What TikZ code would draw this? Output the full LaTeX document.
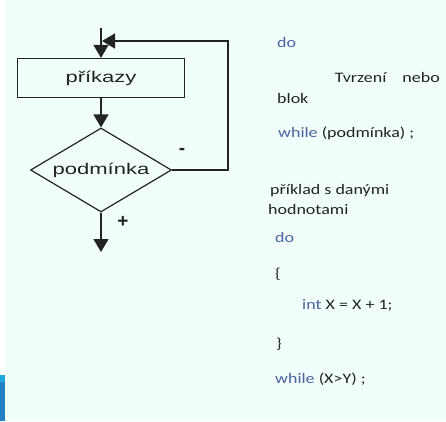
\documentclass[tikz,border=0pt]{standalone}
\usepackage{fontspec}
\usepackage{graphicx}
\usetikzlibrary{shapes.geometric,arrows.meta}

\newfontfamily\flowfont{Liberation Sans}
\newfontfamily\codefont{Carlito}

\definecolor{mint}{RGB}{240,255,250}
\definecolor{kwblue}{RGB}{78,96,160}
\definecolor{ink}{RGB}{35,35,35}
\definecolor{barblue}{RGB}{34,128,196}
\definecolor{barcyan}{RGB}{30,168,224}

% wide lettering
\newcommand{\flowtxt}[1]{\scalebox{1.42}[1]{#1}}
\newcommand{\codetxt}[1]{\scalebox{1.24}[1]{#1}}
\newcommand{\kw}[1]{\textcolor{kwblue}{#1}}

\begin{document}
\begin{tikzpicture}[x=1pt,y=-1pt,
  flow/.style={draw=ink, line width=1.3pt, -{Triangle[width=15pt,length=13pt]}},
  stepbox/.style={draw=ink, line width=1.2pt, minimum width=167pt, minimum height=39pt,
    font=\flowfont\fontsize{15.5}{18}\selectfont, text=ink},
  test/.style={diamond, draw=ink, line width=1.2pt, aspect=1.68, inner sep=0pt,
    minimum width=141pt, minimum height=84pt,
    font=\flowfont\fontsize{15.5}{18}\selectfont, text=ink},
  sign/.style={inner sep=0pt, font=\flowfont\bfseries\fontsize{19}{22}\selectfont, text=ink},
  code/.style={anchor=base west, inner sep=0pt,
    font=\codefont\fontsize{14.5}{17}\selectfont, text=ink}]

  % page
  \fill[mint] (0,0) rectangle (446,421);
  \fill[white] (0,0) rectangle (5,375);
  \fill[barcyan] (0,375) rectangle (5,382);
  \fill[barblue] (0,382) rectangle (5,421);

  % do-while loop
  \node[stepbox] (cmd) at (101,78) {\flowtxt{příkazy}};
  \node[test] (cond) at (101,170) {\flowtxt{podmínka}};
  \coordinate (start) at (101,28);
  \coordinate (join) at (102,41);
  \coordinate (back) at (228,41);
  \coordinate (exit) at (101,252);

  \draw[flow] (start) -- (cmd);
  \draw[flow] (cmd) -- (cond);
  \draw[flow] (cond.east) -| (back) -- (join);
  \draw[flow] (cond) -- (exit);

  \node[sign] (minus) at (182,151) {-};
  \node[sign] (plus) at (123,222) {+};

  % syntax
  \node[code] (do1) at (277,47) {\codetxt{\kw{do}}};
  \node[code, anchor=base east] (stmt) at (440,82) {\codetxt{Tvrzení\hspace{13pt}nebo}};
  \node[code] (blok) at (277,103) {\codetxt{blok}};
  \node[code] (wh1) at (278,137) {\codetxt{\kw{while} (podmínka) ;}};

  % example
  \node[code] (ex1) at (270,194) {\codetxt{příklad s danými}};
  \node[code] (ex2) at (268,214) {\codetxt{hodnotami}};
  \node[code] (do2) at (275,242) {\codetxt{\kw{do}}};
  \node[code] (open) at (275,278) {\codetxt{\{}};
  \node[code] (body) at (302,309) {\codetxt{\kw{int} X = X + 1;}};
  \node[code] (close) at (276,348) {\codetxt{\}}};
  \node[code] (wh2) at (275,383) {\codetxt{\kw{while} (X>Y) ;}};
\end{tikzpicture}
\end{document}
